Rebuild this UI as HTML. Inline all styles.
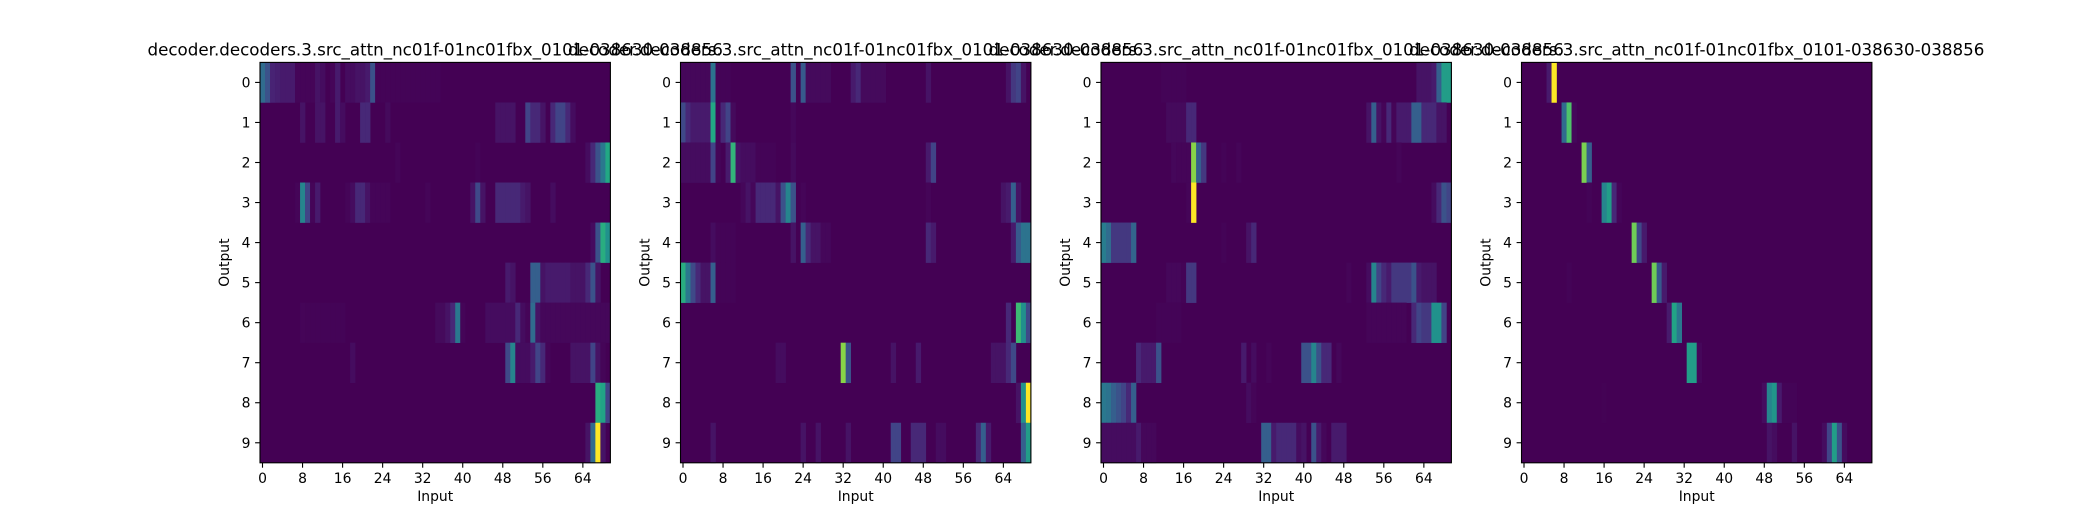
<!DOCTYPE html>
<html><head><meta charset="utf-8"><style>
body{margin:0;background:#fff;}
svg text{font-family:"DejaVu Sans","Liberation Sans",sans-serif;fill:#000;}
</style></head><body>
<svg id="fig" width="2080" height="520" xmlns="http://www.w3.org/2000/svg"></svg>
<script>
const nCols = 70;
const nRows = 10;
const xTickLabels = [0,8,16,24,32,40,48,56,64];
const yTickLabels = [0,1,2,3,4,5,6,7,8,9];
const panelTitle = "decoder.decoders.3.src_attn_nc01f-01nc01fbx_0101-038630-038856";
const panel1 = [
 [[0,.35],[1,.25],[2,.14],[3,.13],[4,.12],[5,.12],[6,.12],[7,.05],[8,.05],[9,.05],[10,.05],[11,.1],[12,.08],[14,.05],[15,.12],[17,.08],[18,.08],[19,.1],[20,.1],[21,.12],[22,.25],[23,.04],[24,.04],[25,.04],[26,.04],[27,.04],[28,.04],[29,.04],[30,.04],[31,.04],[32,.04],[33,.04],[34,.04],[35,.04]],
 [[8,.1],[11,.1],[12,.1],[15,.12],[16,.08],[20,.15],[21,.15],[25,.07],[47,.1],[48,.1],[49,.1],[50,.1],[53,.2],[54,.15],[55,.15],[56,.1],[58,.15],[59,.2],[60,.2],[61,.15],[62,.08]],
 [[27,.05],[43,.04],[65,.08],[66,.15],[67,.25],[68,.4],[69,.6]],
 [[7,.05],[8,.45],[9,.2],[10,.05],[11,.12],[17,.05],[18,.08],[19,.15],[20,.15],[21,.1],[22,.05],[23,.05],[24,.05],[25,.05],[33,.05],[42,.1],[43,.22],[44,.1],[47,.15],[48,.15],[49,.15],[50,.15],[51,.15],[52,.12],[53,.1],[58,.08]],
 [[66,.08],[67,.25],[68,.62],[69,.5]],
 [[49,.12],[50,.1],[54,.3],[55,.3],[56,.1],[57,.12],[58,.12],[59,.12],[60,.12],[61,.12],[62,.1],[63,.1],[64,.1],[65,.15],[66,.25],[67,.1]],
 [[8,.05],[9,.04],[10,.04],[11,.04],[12,.04],[13,.04],[14,.04],[15,.04],[16,.04],[35,.07],[36,.07],[37,.1],[38,.15],[39,.4],[40,.05],[45,.08],[46,.08],[47,.08],[48,.08],[49,.08],[50,.08],[51,.15],[52,.08],[53,.05],[54,.35],[55,.1],[56,.06],[57,.06],[58,.06],[59,.06],[60,.06],[61,.06],[62,.06],[63,.06],[64,.06],[65,.06],[66,.06],[67,.06],[68,.06],[69,.06]],
 [[18,.08],[49,.22],[50,.45],[51,.08],[52,.08],[53,.08],[54,.12],[55,.2],[56,.15],[57,.05],[62,.1],[63,.1],[64,.1],[65,.1],[66,.2],[67,.1],[68,.05]],
 [[67,.62],[68,.58],[69,.2]],
 [[65,.1],[66,.35],[67,1.0],[68,.1]]
];
const panel2 = [
 [[0,.06],[1,.06],[2,.06],[3,.06],[4,.06],[5,.06],[6,.38],[7,.04],[8,.04],[9,.04],[22,.25],[24,.28],[25,.07],[26,.07],[27,.07],[28,.07],[29,.07],[34,.12],[35,.15],[36,.07],[37,.07],[38,.07],[39,.07],[40,.07],[49,.1],[65,.1],[66,.18],[67,.2],[68,.1]],
 [[0,.22],[1,.15],[2,.12],[3,.12],[4,.12],[5,.12],[6,.6],[7,.05],[8,.15],[9,.2],[10,.07],[22,.06]],
 [[0,.08],[1,.08],[2,.08],[3,.08],[4,.08],[5,.08],[6,.2],[7,.05],[9,.12],[10,.65],[11,.1],[12,.08],[13,.08],[14,.08],[15,.04],[16,.04],[17,.04],[18,.04],[22,.07],[49,.12],[50,.2]],
 [[12,.06],[13,.1],[14,.06],[15,.15],[16,.15],[17,.15],[18,.15],[19,.1],[20,.25],[21,.45],[22,.25],[24,.05],[49,.05],[64,.1],[65,.12],[66,.3],[67,.1]],
 [[6,.08],[7,.04],[8,.04],[9,.04],[10,.04],[22,.1],[24,.3],[25,.15],[26,.1],[27,.1],[28,.06],[29,.06],[49,.15],[50,.12],[66,.12],[67,.28],[68,.38],[69,.38]],
 [[0,.62],[1,.4],[2,.22],[3,.15],[4,.1],[5,.1],[6,.3],[7,.04],[8,.04],[9,.04],[10,.04]],
 [[65,.15],[67,.68],[68,.5],[69,.22]],
 [[19,.08],[20,.08],[32,.82],[33,.25],[42,.1],[47,.12],[62,.1],[63,.1],[64,.1],[65,.15],[66,.22]],
 [[67,.1],[68,.5],[69,1.0]],
 [[6,.1],[24,.1],[27,.1],[33,.1],[42,.2],[43,.2],[46,.15],[47,.15],[48,.15],[51,.08],[52,.08],[59,.15],[60,.3],[61,.12],[68,.3],[69,.55]]
];
const panel3 = [
 [[12,.04],[13,.04],[14,.04],[15,.04],[16,.04],[63,.1],[64,.1],[65,.1],[66,.12],[67,.3],[68,.55],[69,.55]],
 [[13,.07],[14,.07],[15,.07],[16,.07],[17,.15],[18,.15],[53,.1],[54,.3],[55,.1],[56,.05],[57,.15],[58,.05],[59,.12],[60,.12],[61,.12],[62,.3],[63,.3],[64,.15],[65,.15],[66,.15],[67,.1],[68,.1]],
 [[14,.06],[15,.05],[16,.05],[17,.05],[18,.82],[19,.3],[20,.18],[24,.04],[27,.05],[59,.05]],
 [[17,.05],[18,1.0],[66,.08],[67,.15],[68,.25],[69,.2]],
 [[0,.42],[1,.35],[2,.18],[3,.18],[4,.18],[5,.18],[6,.32],[24,.04],[29,.1],[30,.15]],
 [[13,.06],[14,.06],[15,.06],[16,.04],[17,.18],[18,.18],[49,.05],[53,.08],[54,.45],[55,.2],[56,.15],[57,.12],[58,.18],[59,.18],[60,.18],[61,.18],[62,.25],[63,.12],[64,.1],[65,.1],[66,.1]],
 [[11,.04],[12,.04],[13,.04],[14,.04],[15,.04],[53,.05],[54,.05],[55,.05],[56,.05],[57,.05],[58,.05],[59,.05],[60,.05],[62,.15],[63,.2],[64,.18],[65,.18],[66,.5],[67,.5],[68,.2]],
 [[7,.15],[8,.12],[9,.12],[10,.12],[11,.25],[28,.12],[30,.08],[33,.05],[40,.25],[41,.25],[42,.45],[43,.25],[44,.15],[45,.15],[47,.06]],
 [[0,.4],[1,.38],[2,.3],[3,.25],[4,.2],[5,.15],[6,.3],[29,.08],[30,.05]],
 [[0,.08],[1,.08],[2,.08],[3,.08],[4,.08],[5,.08],[6,.08],[7,.12],[8,.06],[9,.06],[10,.06],[32,.3],[33,.3],[34,.12],[35,.15],[36,.15],[37,.15],[38,.15],[39,.08],[40,.1],[42,.25],[43,.12],[44,.06],[46,.12],[47,.12],[48,.12]]
];
const panel4 = [
 [[5,.12],[6,1.0]],
 [[8,.35],[9,.72],[10,.06]],
 [[12,.8],[13,.3]],
 [[13,.04],[16,.45],[17,.55],[18,.15],[19,.05]],
 [[22,.78],[23,.22],[24,.12]],
 [[9,.04],[26,.78],[27,.28],[28,.12]],
 [[29,.12],[30,.58],[31,.4]],
 [[33,.55],[34,.55],[35,.06]],
 [[16,.03],[48,.08],[49,.45],[50,.52],[51,.12],[52,.04],[53,.04],[54,.04]],
 [[49,.1],[50,.08],[54,.1],[60,.08],[61,.2],[62,.55],[63,.25],[64,.08]]
];
const panels = [panel1, panel2, panel3, panel4];

const VIR = [[68,1,84],[72,36,117],[65,68,135],[53,95,141],[42,120,142],[33,145,140],[34,168,132],[68,191,112],[122,209,81],[189,223,38],[253,231,37]];
function viridis(v){
  v = Math.max(0, Math.min(1, v));
  const t = v < 0.2 ? v*v/0.2 : v;
  const p = t*(VIR.length-1), i = Math.min(Math.floor(p), VIR.length-2), f = p-i;
  const c = VIR[i].map((x,k)=>Math.round(x+(VIR[i+1][k]-x)*f));
  return `rgb(${c[0]},${c[1]},${c[2]})`;
}
const NS = "http://www.w3.org/2000/svg";
const svg = document.getElementById('fig');
function mk(tag, attrs, parent){
  const e = document.createElementNS(NS, tag);
  for (const k in attrs) e.setAttribute(k, attrs[k]);
  (parent||svg).appendChild(e);
  return e;
}
const top0 = 62.4, H = 400.4, W = 350.4, gap = 70.1, left0 = 260;

panels.forEach((rows, pi) => {
  const L = left0 + pi*(W+gap);
  const xs = c => L + (c + 0.5) * W / nCols;
  const ys = r => top0 + (r + 0.5) * H / nRows;
  const cw = W / nCols, rh = H / nRows;
  const g = mk('g', {});
  
  
  const bg = mk('rect', {x:L, y:top0, width:W, height:H, fill:viridis(0)}, g);
  
  
  rows.forEach((cells, r) => {
    cells.forEach(([c, v]) => {
      const rc = mk('rect', {x:(xs(c)-cw/2).toFixed(2), y:(ys(r)-rh/2).toFixed(2), width:(cw+0.3).toFixed(2), height:(rh+0.3).toFixed(2), fill:viridis(v)}, g);
      
      
    });
  });
  const fr = mk('rect', {x:L, y:top0, width:W, height:H, fill:'none', stroke:'#000', 'stroke-width':1.1}, g);
  
  
  xTickLabels.forEach(v => {
    const x = xs(v);
    mk('line', {x1:x, x2:x, y1:top0+H, y2:top0+H+4.9, stroke:'#000', 'stroke-width':1.1}, g);
    const t = mk('text', {x:x, y:top0+H+20, 'font-size':13.9, 'text-anchor':'middle'}, g);
    t.textContent = v;
    
    
  });
  yTickLabels.forEach(v => {
    const y = ys(v);
    mk('line', {x1:L-4.9, x2:L, y1:y, y2:y, stroke:'#000', 'stroke-width':1.1}, g);
    const t = mk('text', {x:L-9.5, y:y+5, 'font-size':13.9, 'text-anchor':'end'}, g);
    t.textContent = v;
    
    
  });
  const xl = mk('text', {x:L+W/2, y:top0+H+38, 'font-size':13.9, 'text-anchor':'middle'}, g);
  xl.textContent = 'Input';
  
  
  const yl = mk('text', {x:0, y:0, 'font-size':13.9, 'text-anchor':'middle', transform:`translate(${L-31},${top0+H/2}) rotate(-90)`}, g);
  yl.textContent = 'Output';
  
  
  const tt = mk('text', {x:L+W/2, y:top0-7, 'font-size':16.7, 'text-anchor':'middle'}, g);
  tt.textContent = panelTitle;
  
  
});
</script>
</body></html>
